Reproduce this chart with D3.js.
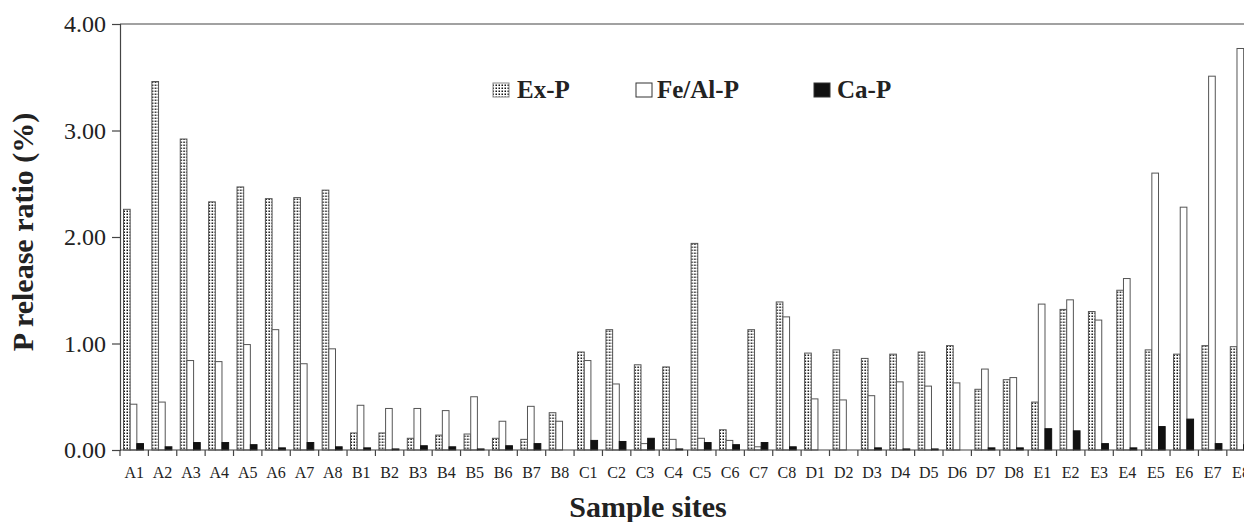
<!DOCTYPE html>
<html>
<head>
<meta charset="utf-8">
<script src="https://cdn.jsdelivr.net/npm/d3@7"></script>
<style>
  body { margin: 0; background: #fff; }
  text { font-family: "Liberation Serif", "Times New Roman", serif; fill: #222; }
</style>
</head>
<body>
<div id="chart"></div>
<script>
var sites = ["A1","A2","A3","A4","A5","A6","A7","A8",
             "B1","B2","B3","B4","B5","B6","B7","B8",
             "C1","C2","C3","C4","C5","C6","C7","C8",
             "D1","D2","D3","D4","D5","D6","D7","D8",
             "E1","E2","E3","E4","E5","E6","E7","E8"];

var exP   = [2.26,3.46,2.92,2.33,2.47,2.36,2.37,2.44,
             0.16,0.16,0.11,0.14,0.15,0.11,0.10,0.35,
             0.92,1.13,0.80,0.78,1.94,0.19,1.13,1.39,
             0.91,0.94,0.86,0.90,0.92,0.98,0.57,0.66,
             0.45,1.32,1.30,1.50,0.94,0.90,0.98,0.97];

var feAlP = [0.43,0.45,0.84,0.83,0.99,1.13,0.81,0.95,
             0.42,0.39,0.39,0.37,0.50,0.27,0.41,0.27,
             0.84,0.62,0.06,0.10,0.11,0.09,0.03,1.25,
             0.48,0.47,0.51,0.64,0.60,0.63,0.76,0.68,
             1.37,1.41,1.22,1.61,2.60,2.28,3.51,3.77];

var caP   = [0.06,0.03,0.07,0.07,0.05,0.02,0.07,0.03,
             0.02,0.01,0.04,0.03,0.01,0.04,0.06,0.00,
             0.09,0.08,0.11,0.01,0.07,0.05,0.07,0.03,
             0.00,0.00,0.02,0.01,0.01,0.00,0.02,0.02,
             0.20,0.18,0.06,0.02,0.22,0.29,0.06,0.05];

var seriesNames = ["Ex-P", "Fe/Al-P", "Ca-P"];
var yTicks = [0, 1, 2, 3, 4];

var width = 1244, height = 522;
var plotLeft = 120, plotTop = 24, plotBottom = 450;
var step = 28.38;

var svg = d3.select("#chart").append("svg")
    .attr("width", width)
    .attr("height", height);

// dotted fill for Ex-P
var defs = svg.append("defs");
var pat = defs.append("pattern")
    .attr("id", "dots")
    .attr("patternUnits", "userSpaceOnUse")
    .attr("width", 3)
    .attr("height", 3);
pat.append("rect").attr("width", 3).attr("height", 3).attr("fill", "#fff");
pat.append("rect").attr("x", 0.5).attr("y", 0.5).attr("width", 1.5).attr("height", 1.5).attr("fill", "#111");

var fills = { "Ex-P": "url(#dots)", "Fe/Al-P": "#fff", "Ca-P": "#111" };
var strokes = { "Ex-P": "#555", "Fe/Al-P": "#555", "Ca-P": "#111" };

var x = d3.scaleBand()
    .domain(sites)
    .range([plotLeft, plotLeft + step * sites.length])
    .padding(0);

var x1 = d3.scaleBand()
    .domain(seriesNames)
    .range([3.5, 23.5]);

var y = d3.scaleLinear()
    .domain([0, 4])
    .range([plotBottom, plotTop]);

var rows = sites.map(function(s, i) {
    return { site: s, values: [
        { key: "Ex-P", value: exP[i] },
        { key: "Fe/Al-P", value: feAlP[i] },
        { key: "Ca-P", value: caP[i] }
    ]};
});

// bars
var groups = svg.append("g").selectAll("g")
    .data(rows)
    .enter().append("g")
    .attr("transform", function(d) { return "translate(" + x(d.site) + ",0)"; });

groups.selectAll("rect")
    .data(function(d) { return d.values.filter(function(v) { return v.value > 0; }); })
    .enter().append("rect")
    .attr("x", function(d) { return x1(d.key); })
    .attr("width", x1.bandwidth())
    .attr("y", function(d) { return y(d.value); })
    .attr("height", function(d) { return y(0) - y(d.value); })
    .attr("fill", function(d) { return fills[d.key]; })
    .attr("stroke", function(d) { return strokes[d.key]; })
    .attr("stroke-width", 1);

// y axis
var yAxis = svg.append("g")
    .attr("transform", "translate(" + plotLeft + ",0)")
    .call(d3.axisLeft(y).tickValues(yTicks).tickFormat(d3.format(".2f")).tickSize(8).tickPadding(6));
yAxis.select(".domain").attr("stroke", "#444").attr("stroke-width", 1.2);
yAxis.selectAll(".tick line").attr("stroke", "#444").attr("stroke-width", 1.2);
yAxis.selectAll(".tick text")
    .style("font-family", "'Liberation Serif', serif")
    .style("font-size", "24px")
    .attr("fill", "#222");

// top frame line
svg.append("line")
    .attr("x1", plotLeft).attr("x2", width)
    .attr("y1", y(4)).attr("y2", y(4))
    .attr("stroke", "#444").attr("stroke-width", 1.2);

// x axis
svg.append("line")
    .attr("x1", plotLeft).attr("x2", width)
    .attr("y1", y(0)).attr("y2", y(0))
    .attr("stroke", "#444").attr("stroke-width", 1.2);

svg.append("g").selectAll("line")
    .data(d3.range(sites.length + 1))
    .enter().append("line")
    .attr("x1", function(i) { return plotLeft + i * step; })
    .attr("x2", function(i) { return plotLeft + i * step; })
    .attr("y1", y(0)).attr("y2", y(0) + 6)
    .attr("stroke", "#444").attr("stroke-width", 1.2);

svg.append("g").selectAll("text")
    .data(sites)
    .enter().append("text")
    .attr("x", function(d) { return x(d) + x.bandwidth() / 2; })
    .attr("y", 478)
    .attr("text-anchor", "middle")
    .style("font-size", "16px")
    .text(function(d) { return d; });

// axis titles
svg.append("text")
    .attr("x", 648)
    .attr("y", 517)
    .attr("text-anchor", "middle")
    .style("font-size", "30px")
    .style("font-weight", "bold")
    .text("Sample sites");

svg.append("text")
    .attr("transform", "translate(33,232)rotate(-90)")
    .attr("text-anchor", "middle")
    .style("font-size", "30px")
    .style("font-weight", "bold")
    .text("P release ratio (%)");

// legend
var legendPos = [{ bx: 493, tx: 517 }, { bx: 636, tx: 657 }, { bx: 814, tx: 837 }];
var legend = svg.append("g").selectAll("g")
    .data(seriesNames)
    .enter().append("g");

legend.append("rect")
    .attr("x", function(d, i) { return legendPos[i].bx; })
    .attr("y", 83)
    .attr("width", 16)
    .attr("height", 14)
    .attr("fill", function(d) { return d === "Ex-P" ? "url(#dots)" : fills[d]; })
    .attr("stroke", function(d) { return d === "Ex-P" ? "#888" : "#333"; })
    .attr("stroke-width", 1);

legend.append("text")
    .attr("x", function(d, i) { return legendPos[i].tx; })
    .attr("y", 98)
    .style("font-size", "25px")
    .style("font-weight", "bold")
    .text(function(d) { return d; });
</script>
</body>
</html>
